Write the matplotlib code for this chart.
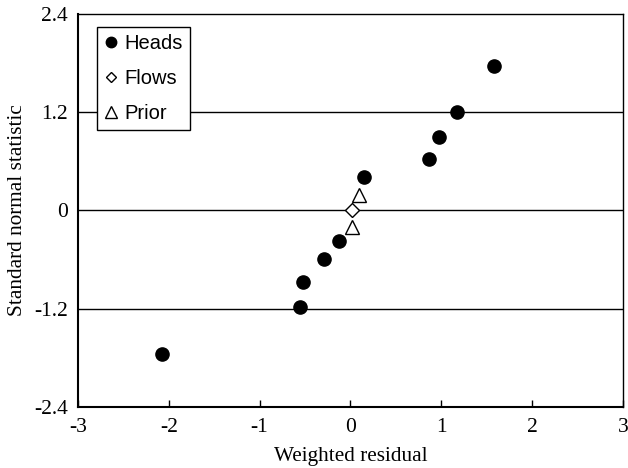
import matplotlib.pyplot as plt
from matplotlib.lines import Line2D

# Weighted residuals and their standard normal order statistics
heads_x = [-2.07, -0.56, -0.52, -0.29, -0.13, 0.15, 0.87, 0.98, 1.17, 1.58]
heads_y = [-1.75, -1.18, -0.87, -0.60, -0.38, 0.41, 0.63, 0.90, 1.20, 1.77]
flows_x = [0.02]
flows_y = [0.0]
prior_x = [0.02, 0.09]
prior_y = [-0.20, 0.19]

xticks = [-3, -2, -1, 0, 1, 2, 3]
yticks = [-2.4, -1.2, 0, 1.2, 2.4]
ytick_labels = ['-2.4', '-1.2', '0', '1.2', '2.4']

serif = 'Liberation Serif'
sans = 'Liberation Sans'

fig = plt.figure(figsize=(6.28, 4.68), dpi=100)
ax = fig.add_axes([0.124, 0.131, 0.868, 0.839])

for y in [-1.2, 0, 1.2]:
    ax.axhline(y, color='black', lw=1.0, zorder=1)

ax.plot(heads_x, heads_y, 'o', color='black', ms=9.5, zorder=3)
ax.plot(flows_x, flows_y, 'D', mfc='white', mec='black', mew=1.0, ms=7, zorder=3)
ax.plot(prior_x, prior_y, '^', mfc='white', mec='black', mew=1.0, ms=10, zorder=3)

ax.set_xlim(-3, 3)
ax.set_ylim(-2.4, 2.4)
ax.set_xticks(xticks)
ax.set_xticklabels([str(t) for t in xticks], fontfamily=serif, fontsize=15.5)
ax.set_yticks(yticks)
ax.set_yticklabels(ytick_labels, fontfamily=serif, fontsize=15.5)
ax.tick_params(axis='x', direction='in', length=5, width=1, pad=8)
ax.tick_params(axis='y', length=0, pad=7)

for side in ['left', 'bottom']:
    ax.spines[side].set_linewidth(1.5)
for side in ['top', 'right']:
    ax.spines[side].set_linewidth(1.0)

ax.set_xlabel('Weighted residual', fontfamily=serif, fontsize=15.3, labelpad=7)
ax.set_ylabel('Standard normal statistic', fontfamily=serif, fontsize=15.3, labelpad=5)

handles = [
    Line2D([], [], ls='none', marker='o', color='black', ms=7.5),
    Line2D([], [], ls='none', marker='D', mfc='white', mec='black', ms=5.5),
    Line2D([], [], ls='none', marker='^', mfc='white', mec='black', ms=8),
]
leg = ax.legend(handles, ['Heads', 'Flows', 'Prior'], loc='upper left',
                bbox_to_anchor=(0.036, 0.968), prop={'family': sans, 'size': 14.5},
                frameon=True, fancybox=False, edgecolor='black', framealpha=1,
                handlelength=0.6, handletextpad=0.4, borderpad=0.35,
                labelspacing=0.8, borderaxespad=0)
leg.get_frame().set_linewidth(1.0)
leg.set_zorder(5)

fig.savefig('out.png', dpi=100)
